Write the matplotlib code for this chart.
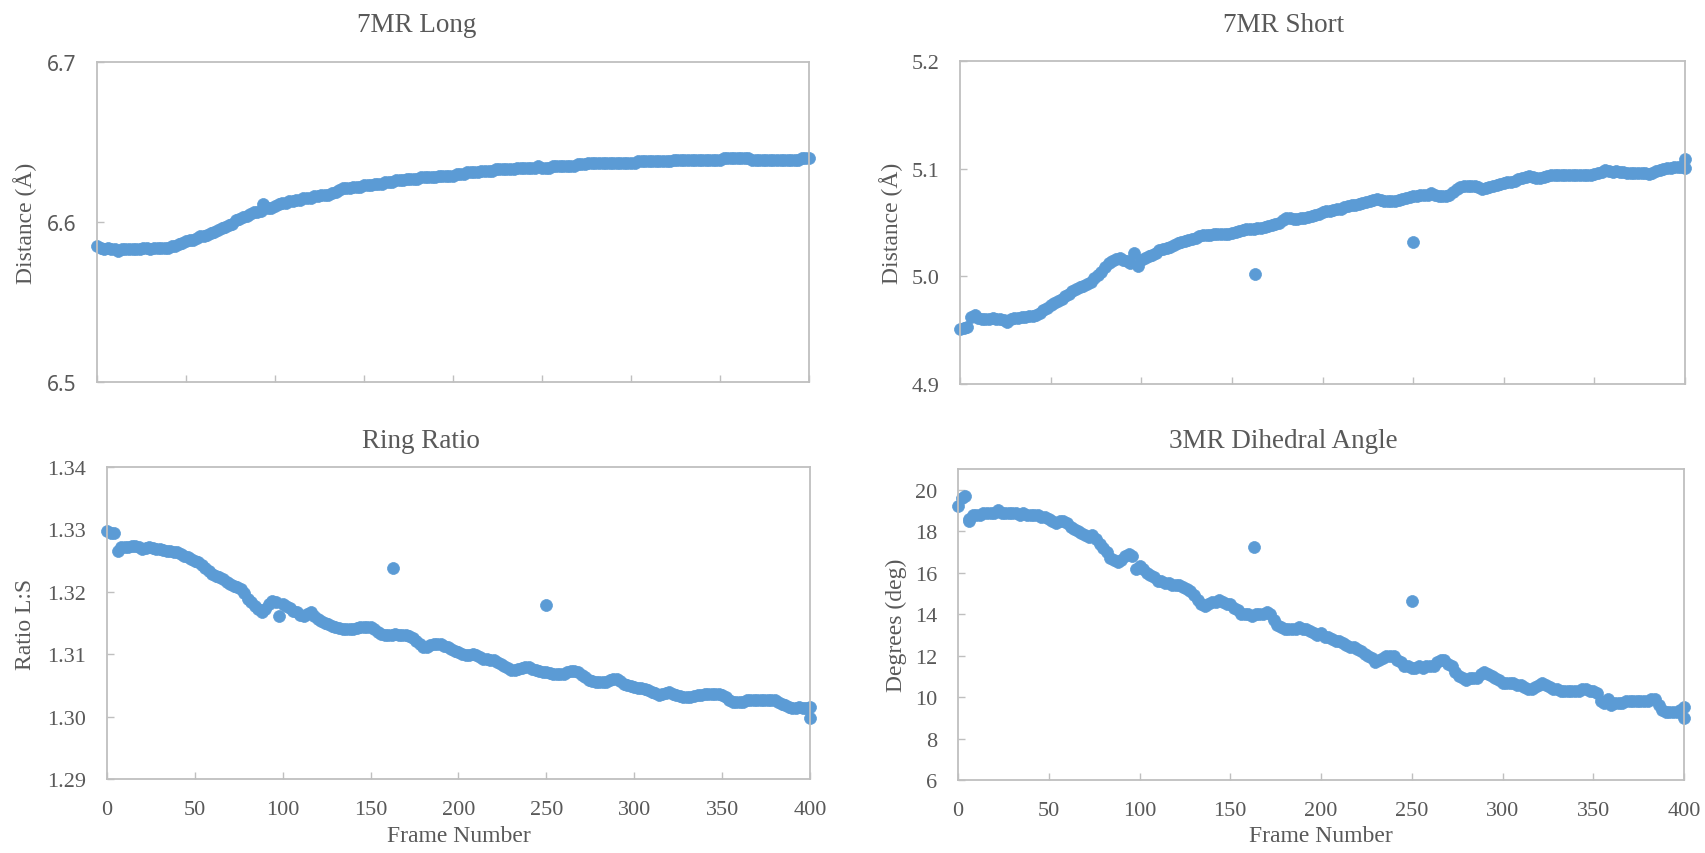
import numpy as np
import matplotlib.pyplot as plt

### data (frame sampled every 2 steps, odd spikes kept separately)
frames = np.arange(0, 401, 2)

long_7mr = [
    6.585, 6.584, 6.583, 6.584, 6.583, 6.583, 6.582, 6.583, 6.583, 6.583,
    6.583, 6.583, 6.583, 6.584, 6.584, 6.583, 6.584, 6.584, 6.584, 6.584,
    6.584, 6.585, 6.585, 6.586, 6.587, 6.588, 6.589, 6.589, 6.590, 6.591,
    6.591, 6.592, 6.593, 6.594, 6.595, 6.596, 6.597, 6.598, 6.599, 6.601,
    6.602, 6.603, 6.604, 6.605, 6.606, 6.606, 6.607, 6.610, 6.609, 6.609,
    6.610, 6.611, 6.612, 6.612, 6.613, 6.613, 6.614, 6.614, 6.615, 6.615,
    6.615, 6.616, 6.616, 6.617, 6.617, 6.617, 6.618, 6.619, 6.620, 6.621,
    6.621, 6.621, 6.622, 6.622, 6.622, 6.623, 6.623, 6.623, 6.624, 6.624,
    6.624, 6.625, 6.625, 6.625, 6.626, 6.626, 6.626, 6.627, 6.627, 6.627,
    6.627, 6.628, 6.628, 6.628, 6.628, 6.628, 6.629, 6.629, 6.629, 6.629,
    6.629, 6.630, 6.630, 6.630, 6.631, 6.631, 6.631, 6.631, 6.632, 6.632,
    6.632, 6.632, 6.633, 6.633, 6.633, 6.633, 6.633, 6.633, 6.634, 6.634,
    6.634, 6.634, 6.634, 6.634, 6.635, 6.634, 6.634, 6.634, 6.635, 6.635,
    6.635, 6.635, 6.635, 6.635, 6.635, 6.636, 6.636, 6.636, 6.637, 6.637,
    6.637, 6.637, 6.637, 6.637, 6.637, 6.637, 6.637, 6.637, 6.637, 6.637,
    6.637, 6.637, 6.638, 6.638, 6.638, 6.638, 6.638, 6.638, 6.638, 6.638,
    6.638, 6.638, 6.639, 6.639, 6.639, 6.639, 6.639, 6.639, 6.639, 6.639,
    6.639, 6.639, 6.639, 6.639, 6.639, 6.639, 6.640, 6.640, 6.640, 6.640,
    6.640, 6.640, 6.640, 6.640, 6.639, 6.639, 6.639, 6.639, 6.639, 6.639,
    6.639, 6.639, 6.639, 6.639, 6.639, 6.639, 6.639, 6.639, 6.640, 6.640,
    6.640,
]

short_7mr = [
    4.951, 4.952, 4.953, 4.962, 4.964, 4.961, 4.960, 4.960, 4.960, 4.961,
    4.960, 4.960, 4.959, 4.958, 4.960, 4.961, 4.961, 4.962, 4.962, 4.963,
    4.963, 4.964, 4.966, 4.969, 4.971, 4.973, 4.975, 4.977, 4.979, 4.982,
    4.984, 4.986, 4.988, 4.990, 4.991, 4.993, 4.995, 4.998, 5.001, 5.004,
    5.009, 5.012, 5.014, 5.016, 5.017, 5.015, 5.014, 5.012, 5.022, 5.010,
    5.015, 5.017, 5.019, 5.020, 5.022, 5.024, 5.025, 5.026, 5.027, 5.029,
    5.031, 5.032, 5.033, 5.034, 5.035, 5.036, 5.037, 5.038, 5.038, 5.038,
    5.039, 5.039, 5.039, 5.039, 5.039, 5.040, 5.041, 5.042, 5.043, 5.044,
    5.044, 5.044, 5.045, 5.045, 5.046, 5.047, 5.048, 5.049, 5.050, 5.052,
    5.054, 5.054, 5.053, 5.053, 5.054, 5.054, 5.055, 5.056, 5.057, 5.058,
    5.060, 5.061, 5.061, 5.062, 5.063, 5.063, 5.064, 5.065, 5.066, 5.066,
    5.067, 5.068, 5.069, 5.070, 5.071, 5.072, 5.071, 5.070, 5.070, 5.070,
    5.070, 5.071, 5.072, 5.073, 5.074, 5.075, 5.075, 5.076, 5.076, 5.076,
    5.077, 5.076, 5.075, 5.075, 5.075, 5.076, 5.078, 5.081, 5.083, 5.084,
    5.084, 5.084, 5.084, 5.083, 5.081, 5.082, 5.083, 5.084, 5.085, 5.086,
    5.087, 5.088, 5.088, 5.089, 5.090, 5.091, 5.092, 5.093, 5.092, 5.091,
    5.091, 5.092, 5.093, 5.094, 5.094, 5.094, 5.094, 5.094, 5.094, 5.094,
    5.094, 5.094, 5.094, 5.094, 5.094, 5.095, 5.096, 5.097, 5.099, 5.098,
    5.097, 5.098, 5.097, 5.097, 5.096, 5.096, 5.096, 5.096, 5.096, 5.096,
    5.095, 5.096, 5.098, 5.099, 5.100, 5.101, 5.101, 5.102, 5.102, 5.102,
    5.101,
]

ring_ratio = [
    1.3298, 1.3295, 1.3294, 1.3266, 1.3272, 1.3271, 1.3272, 1.3273, 1.3274, 1.3272,
    1.3269, 1.3270, 1.3271, 1.3270, 1.3268, 1.3268, 1.3267, 1.3266, 1.3265, 1.3264,
    1.3263, 1.3261, 1.3258, 1.3256, 1.3253, 1.3250, 1.3247, 1.3243, 1.3238, 1.3234,
    1.3229, 1.3226, 1.3223, 1.3220, 1.3216, 1.3212, 1.3209, 1.3207, 1.3205, 1.3198,
    1.3189, 1.3184, 1.3178, 1.3172, 1.3167, 1.3173, 1.3180, 1.3186, 1.3184, 1.3162,
    1.3181, 1.3178, 1.3174, 1.3170, 1.3167, 1.3163, 1.3162, 1.3165, 1.3167, 1.3162,
    1.3157, 1.3154, 1.3150, 1.3148, 1.3145, 1.3143, 1.3142, 1.3141, 1.3141, 1.3141,
    1.3141, 1.3142, 1.3143, 1.3143, 1.3143, 1.3143, 1.3140, 1.3136, 1.3133, 1.3131,
    1.3130, 1.3131, 1.3133, 1.3131, 1.3130, 1.3130, 1.3129, 1.3126, 1.3121, 1.3116,
    1.3111, 1.3112, 1.3114, 1.3116, 1.3117, 1.3116, 1.3113, 1.3111, 1.3108, 1.3105,
    1.3103, 1.3100, 1.3098, 1.3099, 1.3101, 1.3098, 1.3095, 1.3093, 1.3092, 1.3091,
    1.3090, 1.3087, 1.3084, 1.3081, 1.3078, 1.3074, 1.3075, 1.3077, 1.3078, 1.3079,
    1.3079, 1.3077, 1.3074, 1.3073, 1.3072, 1.3071, 1.3070, 1.3069, 1.3069, 1.3069,
    1.3069, 1.3071, 1.3073, 1.3073, 1.3071, 1.3066, 1.3063, 1.3059, 1.3057, 1.3055,
    1.3055, 1.3055, 1.3055, 1.3058, 1.3061, 1.3060, 1.3057, 1.3053, 1.3051, 1.3049,
    1.3047, 1.3046, 1.3046, 1.3044, 1.3042, 1.3040, 1.3038, 1.3035, 1.3036, 1.3038,
    1.3039, 1.3037, 1.3034, 1.3033, 1.3032, 1.3031, 1.3032, 1.3033, 1.3034, 1.3035,
    1.3037, 1.3037, 1.3036, 1.3036, 1.3036, 1.3034, 1.3031, 1.3027, 1.3023, 1.3023,
    1.3023, 1.3024, 1.3026, 1.3026, 1.3026, 1.3026, 1.3026, 1.3026, 1.3026, 1.3026,
    1.3026, 1.3024, 1.3020, 1.3018, 1.3016, 1.3013, 1.3014, 1.3015, 1.3014, 1.3014,
    1.3015,
]

dihedral_3mr = [
    19.2, 19.6, 19.7, 18.6, 18.8, 18.8, 18.8, 18.9, 18.9, 18.9,
    18.9, 19.0, 18.9, 18.9, 18.9, 18.9, 18.9, 18.8, 18.9, 18.8,
    18.8, 18.8, 18.8, 18.7, 18.7, 18.6, 18.5, 18.4, 18.5, 18.5,
    18.4, 18.2, 18.1, 18.0, 17.9, 17.8, 17.7, 17.8, 17.6, 17.4,
    17.2, 17.0, 16.7, 16.6, 16.5, 16.6, 16.8, 16.9, 16.8, 16.2,
    16.3, 16.2, 16.0, 15.9, 15.8, 15.6, 15.6, 15.5, 15.5, 15.4,
    15.4, 15.4, 15.3, 15.2, 15.1, 14.9, 14.7, 14.5, 14.4, 14.5,
    14.6, 14.6, 14.7, 14.6, 14.5, 14.5, 14.3, 14.2, 14.0, 14.0,
    14.0, 13.9, 14.0, 14.0, 14.0, 14.1, 14.0, 13.7, 13.5, 13.4,
    13.3, 13.3, 13.3, 13.3, 13.4, 13.3, 13.3, 13.2, 13.1, 13.0,
    13.1, 12.9, 12.9, 12.8, 12.7, 12.7, 12.6, 12.5, 12.4, 12.4,
    12.3, 12.2, 12.1, 12.0, 11.9, 11.7, 11.8, 11.9, 12.0, 12.0,
    12.0, 11.8, 11.7, 11.5, 11.5, 11.4, 11.4, 11.5, 11.4, 11.5,
    11.5, 11.5, 11.7, 11.8, 11.8, 11.6, 11.5, 11.2, 11.0, 10.9,
    10.8, 10.9, 10.9, 10.9, 11.1, 11.2, 11.1, 11.0, 10.9, 10.8,
    10.7, 10.7, 10.7, 10.7, 10.6, 10.6, 10.5, 10.4, 10.4, 10.5,
    10.6, 10.7, 10.6, 10.5, 10.4, 10.4, 10.3, 10.3, 10.3, 10.3,
    10.3, 10.3, 10.4, 10.4, 10.3, 10.3, 10.2, 9.8, 9.7, 9.9,
    9.6, 9.7, 9.7, 9.7, 9.8, 9.8, 9.8, 9.8, 9.8, 9.8,
    9.8, 9.9, 9.9, 9.6, 9.4, 9.3, 9.3, 9.3, 9.3, 9.4,
    9.5,
]

# stray frames (outliers and doubled end points)
long_extra_f, long_extra_v = [93], [6.611]
short_extra_f, short_extra_v = [163, 250, 400], [5.002, 5.032, 5.109]
ratio_extra_f, ratio_extra_v = [163, 250, 400], [1.3238, 1.3179, 1.2997]
dihedral_extra_f, dihedral_extra_v = [6, 163, 250, 400], [18.5, 17.26, 14.65, 9.0]

BLUE = '#5B9BD5'
GREY = '#595959'
SPINE = '#BFBFBF'
SERIF = 'Liberation Serif'


def draw_panel(ax, y, ex_f, ex_v, ylim, yticks, fmt, ylabel, show_x=True, sans_ticks=False):
    ax.plot(frames, y, 'o', ms=8.6, color=BLUE, mec=BLUE, mew=0.5, clip_on=False)
    ax.plot(ex_f, ex_v, 'o', ms=8.6, color=BLUE, mec=BLUE, mew=0.5, clip_on=False)
    ax.set_xlim(0, 400)
    ax.set_ylim(*ylim)
    ax.set_xticks(range(0, 401, 50))
    ax.set_yticks(yticks)
    ax.set_yticklabels([fmt.format(t) for t in yticks])
    for s in ax.spines.values():
        s.set_color(SPINE)
        s.set_linewidth(1.3)
    ax.tick_params(direction='in', length=5, width=1, color=SPINE,
                   labelcolor=GREY, labelsize=16, pad=15)
    for lab in ax.get_xticklabels() + ax.get_yticklabels():
        lab.set_fontfamily(SERIF)
    if sans_ticks:
        for lab in ax.get_yticklabels():
            lab.set_fontfamily('Noto Sans')
            lab.set_fontsize(15)
    if not show_x:
        ax.tick_params(axis='x', labelbottom=False)
    ax.set_ylabel(ylabel, fontsize=17, color=GREY, family=SERIF, va='center')


fig = plt.figure(figsize=(17.05, 8.54), dpi=100)
W, H = 1705.0, 854.0


def add_axes(x0, x1, y0, y1):
    return fig.add_axes([x0 / W, 1 - y1 / H, (x1 - x0) / W, (y1 - y0) / H])


ax1 = add_axes(97, 809, 63, 383)
ax2 = add_axes(960, 1685, 62, 385)
ax3 = add_axes(107, 810, 468, 780)
ax4 = add_axes(958, 1684, 470, 781)

draw_panel(ax1, long_7mr, long_extra_f, long_extra_v, (6.5, 6.7),
           [6.5, 6.6, 6.7], '{:.1f}', 'Distance (Å)', show_x=False, sans_ticks=True)
draw_panel(ax2, short_7mr, short_extra_f, short_extra_v, (4.9, 5.2),
           [4.9, 5.0, 5.1, 5.2], '{:.1f}', 'Distance (Å)', show_x=False)
draw_panel(ax3, ring_ratio, ratio_extra_f, ratio_extra_v, (1.29, 1.34),
           [1.29, 1.30, 1.31, 1.32, 1.33, 1.34], '{:.2f}', 'Ratio L:S')
draw_panel(ax4, dihedral_3mr, dihedral_extra_f, dihedral_extra_v, (6, 21),
           list(range(6, 21, 2)), '{:d}', 'Degrees (deg)')

ax1.yaxis.set_label_coords((25 - 97) / 712, 0.5)
ax2.yaxis.set_label_coords((891 - 960) / 725, 0.5)
ax3.yaxis.set_label_coords((25 - 107) / 703, 0.5)
ax4.yaxis.set_label_coords((896 - 958) / 726, 0.5)

for ax in (ax3, ax4):
    ax.set_xlabel('Frame Number', fontsize=17, color=GREY, family=SERIF, va='center')
    ax.xaxis.set_label_coords(0.5, -0.18)

titles = [('7MR Long', 417, 25), ('7MR Short', 1284, 25),
          ('Ring Ratio', 421, 442), ('3MR Dihedral Angle', 1283, 442)]
for text, x, y in titles:
    fig.text(x / W, 1 - y / H, text, ha='center', va='center',
             fontsize=19.5, color=GREY, family=SERIF)

fig.savefig('out.png', dpi=100, facecolor='white')
